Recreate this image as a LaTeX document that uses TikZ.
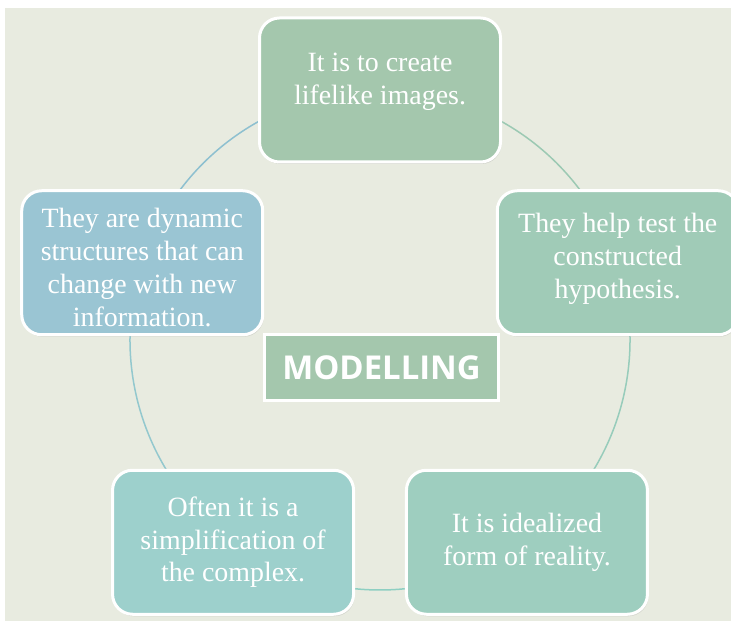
\documentclass[tikz,border=0pt]{standalone}
\usepackage{fontspec}
\setmainfont{Liberation Serif}
\newfontfamily\headfont{Open Sans}
\usetikzlibrary{shadows,backgrounds}
\definecolor{bgcol}{HTML}{E8EBE0}
\definecolor{boxtop}{HTML}{A4C7AD}
\definecolor{boxright}{HTML}{A0CBB7}
\definecolor{boxlowright}{HTML}{9ECEBF}
\definecolor{boxlowleft}{HTML}{9DD0CC}
\definecolor{boxleft}{HTML}{9AC5D3}
\definecolor{linkA}{HTML}{9CC9B3}
\definecolor{linkB}{HTML}{97CCBB}
\definecolor{linkC}{HTML}{8ECFC2}
\definecolor{linkD}{HTML}{93C8CE}
\definecolor{linkE}{HTML}{8EC0D0}
\begin{document}
\begin{tikzpicture}[x=1bp, y=1bp,
		cyclebox/.style={draw=white, line width=3bp, rounded corners=20bp, minimum width=241bp, minimum height=144bp, align=center, text=white, font=\fontsize{28}{33}\selectfont, drop shadow={shadow xshift=1bp, shadow yshift=-2bp, opacity=.2}},
		link/.style={line width=1.5bp}]
	\useasboundingbox (0, 0) rectangle (731, 621);
	\begin{scope}[shift={(380, 281)}]
		\node[cyclebox, fill=boxtop, text depth=22bp] (top) at (90:250) {It is to create\\lifelike images.};
		\node[cyclebox, fill=boxright, text depth=14bp] (right) at (18:250) {They help test the\\constructed\\hypothesis.};
		\node[cyclebox, fill=boxlowright] (lowright) at (306:250) {It is idealized\\form of reality.};
		\node[cyclebox, fill=boxlowleft] (lowleft) at (234:250) {Often it is a\\simplification of\\the complex.};
		\node[cyclebox, fill=boxleft, text height=127bp] (left) at (162:250) {They are dynamic\\structures that can\\change with new\\information.};
		\node[draw=white, line width=3bp, fill=boxtop, minimum width=234bp, minimum height=66bp, text=white, font=\headfont\bfseries\fontsize{33}{39}\selectfont, drop shadow={shadow xshift=1bp, shadow yshift=-2bp, opacity=.2}] (model) at (1.5, -27.5) {MODELLING};
	\end{scope}
	\begin{scope}[on background layer]
		\fill[white] (0, 0) rectangle (731, 621);
		\fill[bgcol] (5, 0) rectangle (731, 613);
		\draw[link, linkA] (top.center) arc[start angle=90, end angle=18, radius=250];
		\draw[link, linkB] (right.center) arc[start angle=18, end angle=-54, radius=250];
		\draw[link, linkC] (lowright.center) arc[start angle=-54, end angle=-126, radius=250];
		\draw[link, linkD] (lowleft.center) arc[start angle=234, end angle=162, radius=250];
		\draw[link, linkE] (left.center) arc[start angle=162, end angle=90, radius=250];
	\end{scope}
\end{tikzpicture}
\end{document}
